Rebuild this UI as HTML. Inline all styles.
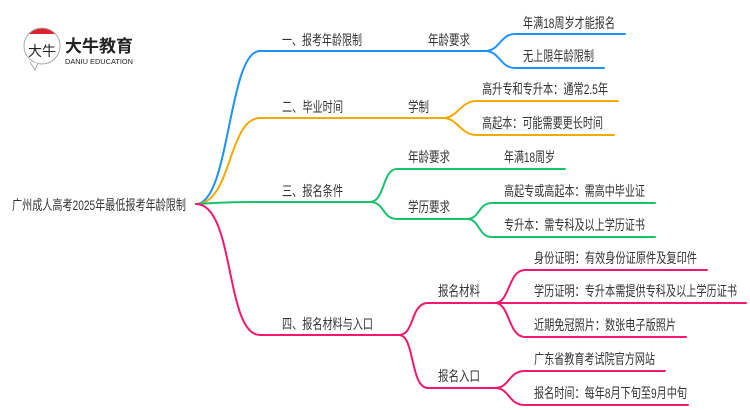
<!DOCTYPE html>
<html><head><meta charset="utf-8"><style>
html,body{margin:0;padding:0;background:#fff;}
svg{display:block;}
text{font-family:"Liberation Sans","Noto Sans CJK SC",sans-serif;font-size:14px;fill:#333;}
</style></head><body>
<svg width="750" height="410" viewBox="0 0 750 410" xmlns="http://www.w3.org/2000/svg">
<g fill="none" stroke-width="2" stroke-linecap="round">
<path d="M196,204 C230,204 228,51 260,51 L485,51" stroke="#1e90ff"/>
<path d="M485,51 C500,51 500,34 515,34 L625,34" stroke="#1e90ff"/>
<path d="M485,51 C500,51 500,68 515,68 L604,68" stroke="#1e90ff"/>
<path d="M196,204 C232,204 228,118 260,118 L443,118" stroke="#f5a800"/>
<path d="M443,118 C458,118 460,101 477,101 L618,101" stroke="#f5a800"/>
<path d="M443,118 C458,118 460,135 477,135 L614,135" stroke="#f5a800"/>
<path d="M196,204 C230,202 240,202 260,202 L370,202" stroke="#19c26b"/>
<path d="M370,202 C385,202 382,169 397,169 L565,169" stroke="#19c26b"/>
<path d="M370,202 C385,202 382,219 397,219 L467,219" stroke="#19c26b"/>
<path d="M467,219 C480,219 478,203 492,203 L655,203" stroke="#19c26b"/>
<path d="M467,219 C480,219 478,237 492,237 L655,237" stroke="#19c26b"/>
<path d="M196,204 C235,204 225,335 260,335 L399,335" stroke="#f0196e"/>
<path d="M399,335 C415,335 410,303 428,303 L495,303" stroke="#f0196e"/>
<path d="M399,335 C415,335 410,388 428,388 L495,388" stroke="#f0196e"/>
<path d="M495,303 C510,303 508,270 525,270 L707,270" stroke="#f0196e"/>
<path d="M495,303 L746,303" stroke="#f0196e"/>
<path d="M495,303 C510,303 508,337 525,337 L686,337" stroke="#f0196e"/>
<path d="M495,388 C510,388 508,371 525,371 L665,371" stroke="#f0196e"/>
<path d="M495,388 C510,388 508,405 525,405 L688,405" stroke="#f0196e"/>
</g>
<circle cx="42" cy="46" r="18" fill="#fff" stroke="#aaa" stroke-width="1"/>
<path d="M29,34 A18,18 0 0 1 55,34 Z" fill="#d9232d"/>
<path d="M30,62 L35,70 L38,63" fill="#fff" stroke="#aaa" stroke-width="1"/>
<text x="28" y="56" style="font-size:14px;fill:#222">大牛</text>
<text x="65" y="52" style="font-size:17px;font-weight:bold;fill:#222">大牛教育</text>
<text x="65" y="64" style="font-size:7px;fill:#222" textLength="68" lengthAdjust="spacingAndGlyphs">DANIU EDUCATION</text>
<g>
<text x="12" y="210" textLength="174" lengthAdjust="spacingAndGlyphs">广州成人高考2025年最低报考年龄限制</text>
<text x="282" y="45" textLength="80" lengthAdjust="spacingAndGlyphs">一、报考年龄限制</text>
<text x="282" y="112" textLength="61" lengthAdjust="spacingAndGlyphs">二、毕业时间</text>
<text x="282" y="196" textLength="61" lengthAdjust="spacingAndGlyphs">三、报名条件</text>
<text x="282" y="329" textLength="91" lengthAdjust="spacingAndGlyphs">四、报名材料与入口</text>
<text x="428" y="45" textLength="42" lengthAdjust="spacingAndGlyphs">年龄要求</text>
<text x="408" y="112" textLength="21" lengthAdjust="spacingAndGlyphs">学制</text>
<text x="408" y="162" textLength="42" lengthAdjust="spacingAndGlyphs">年龄要求</text>
<text x="408" y="212" textLength="42" lengthAdjust="spacingAndGlyphs">学历要求</text>
<text x="438" y="296" textLength="42" lengthAdjust="spacingAndGlyphs">报名材料</text>
<text x="438" y="381" textLength="42" lengthAdjust="spacingAndGlyphs">报名入口</text>
<text x="523" y="28" textLength="92" lengthAdjust="spacingAndGlyphs">年满18周岁才能报名</text>
<text x="523" y="61" textLength="71" lengthAdjust="spacingAndGlyphs">无上限年龄限制</text>
<text x="482" y="94" textLength="126" lengthAdjust="spacingAndGlyphs">高升专和专升本：通常2.5年</text>
<text x="482" y="128" textLength="121" lengthAdjust="spacingAndGlyphs">高起本：可能需要更长时间</text>
<text x="504" y="162" textLength="51" lengthAdjust="spacingAndGlyphs">年满18周岁</text>
<text x="504" y="196" textLength="141" lengthAdjust="spacingAndGlyphs">高起专或高起本：需高中毕业证</text>
<text x="504" y="230" textLength="141" lengthAdjust="spacingAndGlyphs">专升本：需专科及以上学历证书</text>
<text x="534" y="263" textLength="163" lengthAdjust="spacingAndGlyphs">身份证明：有效身份证原件及复印件</text>
<text x="534" y="296" textLength="203" lengthAdjust="spacingAndGlyphs">学历证明：专升本需提供专科及以上学历证书</text>
<text x="534" y="330" textLength="142" lengthAdjust="spacingAndGlyphs">近期免冠照片：数张电子版照片</text>
<text x="534" y="364" textLength="121" lengthAdjust="spacingAndGlyphs">广东省教育考试院官方网站</text>
<text x="534" y="398" textLength="153" lengthAdjust="spacingAndGlyphs">报名时间：每年8月下旬至9月中旬</text>
</g>
</svg>
</body></html>
